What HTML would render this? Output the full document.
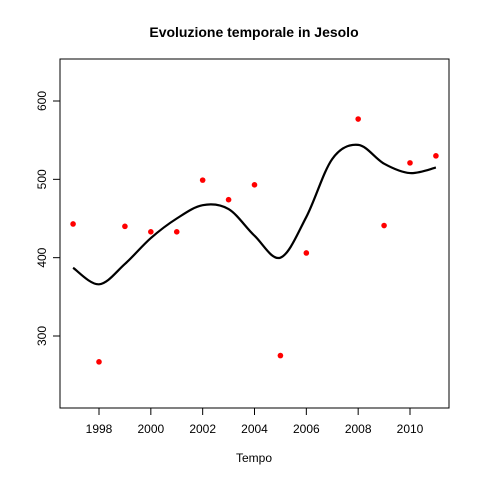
<!DOCTYPE html>
<html><head><meta charset="utf-8"><style>
body{margin:0;background:#fff}
svg{display:block;font-family:"Liberation Sans",Arial,sans-serif}
</style></head><body>
<svg id="c" width="480" height="480">
<text x="254" y="37" text-anchor="middle" font-size="14" font-weight="bold">Evoluzione temporale in Jesolo</text>
<text x="254" y="462" text-anchor="middle" font-size="12">Tempo</text>
<rect x="60" y="59" width="389" height="349" fill="none" stroke="#000"/>
<g id="ax"></g><g id="marks"></g>
</svg>
<script>
const years=[1997,1998,1999,2000,2001,2002,2003,2004,2005,2006,2008,2009,2010,2011];
const values=[443,267,440,433,433,499,474,493,275,406,577,441,521,530];
const smoothX=[1997,1998,1999,2000,2001,2002,2003,2004,2005,2006,2007,2008,2009,2010,2011];
const smoothY=[387,366,392,425,450,467,462,428,400,452,526,544,520,508,515];
const xTicks=[1998,2000,2002,2004,2006,2008,2010];
const yTicks=[300,400,500,600];
const NS="http://www.w3.org/2000/svg";
const xs=v=>99+(v-1998)*(311/12);
const ys=v=>336-(v-300)*0.78333;
const ax=document.getElementById('ax'),mk=document.getElementById('marks');
function el(t,a,p){const e=document.createElementNS(NS,t);for(const k in a)e.setAttribute(k,a[k]);p.appendChild(e);return e;}
el('line',{x1:xs(1998),x2:xs(2010),y1:408,y2:408,stroke:'#000'},ax);
xTicks.forEach(t=>{const l=el('line',{x1:xs(t),x2:xs(t),y1:408,y2:415,stroke:'#000'},ax);


const tx=el('text',{x:xs(t),y:433,'text-anchor':'middle','font-size':12},ax);tx.textContent=t;

});
el('line',{x1:60,x2:60,y1:ys(300),y2:ys(600),stroke:'#000'},ax);
yTicks.forEach(t=>{const l=el('line',{x1:53,x2:60,y1:ys(t),y2:ys(t),stroke:'#000'},ax);


const tx=el('text',{x:46,y:ys(t),'text-anchor':'middle','font-size':12,transform:`rotate(-90 46 ${ys(t)})`},ax);tx.textContent=t;

});
const P=smoothX.map((x,i)=>[xs(x),ys(smoothY[i])]);
let d=`M${P[0][0]},${P[0][1]}`;
for(let i=0;i<P.length-1;i++){const p0=P[i-1]||P[i],p1=P[i],p2=P[i+1],p3=P[i+2]||P[i+1];
d+=`C${p1[0]+(p2[0]-p0[0])/6},${p1[1]+(p2[1]-p0[1])/6} ${p2[0]-(p3[0]-p1[0])/6},${p2[1]-(p3[1]-p1[1])/6} ${p2[0]},${p2[1]}`;}
const path=el('path',{d:d,fill:'none',stroke:'#000','stroke-width':2.2},mk);


years.forEach((y,i)=>{const c=el('circle',{cx:xs(y),cy:ys(values[i]),r:2.8,fill:'#f00'},mk);

});
</script>
</body></html>
